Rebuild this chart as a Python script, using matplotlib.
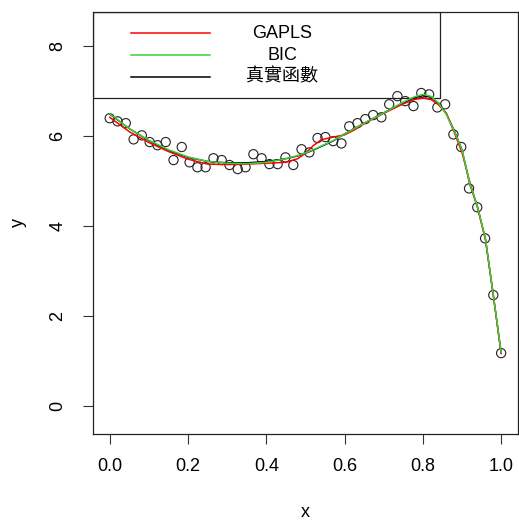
import matplotlib.pyplot as plt
from matplotlib.patches import Rectangle

plt.rcParams['font.family'] = ['Liberation Sans', 'Noto Sans CJK TC', 'DejaVu Sans']

# observed sample
x_obs = [0.000, 0.020, 0.041, 0.061, 0.082, 0.102, 0.122, 0.143, 0.163, 0.184,
         0.204, 0.224, 0.245, 0.265, 0.286, 0.306, 0.327, 0.347, 0.367, 0.388,
         0.408, 0.429, 0.449, 0.469, 0.490, 0.510, 0.531, 0.551, 0.571, 0.592,
         0.612, 0.633, 0.653, 0.673, 0.694, 0.714, 0.735, 0.755, 0.776, 0.796,
         0.816, 0.837, 0.857, 0.878, 0.898, 0.918, 0.939, 0.959, 0.980, 1.000]
y_obs = [6.40, 6.33, 6.29, 5.93, 6.02, 5.87, 5.80, 5.87, 5.47, 5.76,
         5.42, 5.31, 5.31, 5.51, 5.47, 5.36, 5.27, 5.31, 5.60, 5.51,
         5.38, 5.38, 5.53, 5.36, 5.71, 5.64, 5.96, 5.98, 5.89, 5.84,
         6.22, 6.29, 6.38, 6.47, 6.42, 6.71, 6.89, 6.78, 6.67, 6.96,
         6.93, 6.64, 6.71, 6.04, 5.76, 4.84, 4.42, 3.73, 2.47, 1.18]

# fitted curves and the true function on a common grid
x_fit = [0.00, 0.05, 0.10, 0.15, 0.20, 0.25, 0.30, 0.35, 0.40, 0.45, 0.48,
         0.50, 0.52, 0.54, 0.57, 0.60, 0.625, 0.65, 0.70, 0.75, 0.78, 0.80,
         0.82, 0.84, 0.86, 0.88, 0.90, 0.92, 0.94, 0.96, 0.98, 1.00]
y_gapls = [6.42, 6.10, 5.86, 5.66, 5.49, 5.38, 5.37, 5.38, 5.40, 5.42, 5.50,
           5.62, 5.79, 5.92, 5.98, 6.03, 6.14, 6.28, 6.51, 6.72, 6.82, 6.85,
           6.82, 6.70, 6.51, 6.09, 5.64, 4.98, 4.40, 3.70, 2.47, 1.17]
y_bic = [6.50, 6.17, 5.91, 5.70, 5.54, 5.44, 5.40, 5.39, 5.42, 5.50, 5.57,
         5.63, 5.70, 5.78, 5.90, 6.05, 6.17, 6.29, 6.52, 6.76, 6.88, 6.93,
         6.89, 6.74, 6.48, 6.12, 5.70, 4.95, 4.42, 3.72, 2.47, 1.20]
y_true = [6.49, 6.17, 5.90, 5.68, 5.53, 5.44, 5.41, 5.41, 5.44, 5.50, 5.56,
          5.62, 5.69, 5.77, 5.89, 6.05, 6.17, 6.29, 6.52, 6.74, 6.86, 6.90,
          6.87, 6.73, 6.50, 6.13, 5.70, 4.93, 4.42, 3.71, 2.46, 1.19]

labels = ['GAPLS', 'BIC', '真實函數']
colors = ['#ff0000', '#3ccf3c', '#000000']

fig = plt.figure(figsize=(5.19, 5.23), dpi=100)
ax = fig.add_axes([0.179, 0.170, 0.819, 0.807])

ax.scatter(x_obs, y_obs, s=44, facecolors='none', edgecolors='#222222',
           linewidths=0.8, zorder=2)
# true function underneath, then the two fits
ax.plot(x_fit, y_true, color=colors[2], lw=1.0, zorder=3)
ax.plot(x_fit, y_gapls, color=colors[0], lw=1.1, zorder=3)
ax.plot(x_fit, y_bic, color=colors[1], lw=1.1, zorder=3)

ax.set_xlim(-0.043, 1.043)
ax.set_ylim(-0.62, 8.76)
ax.set_xticks([0.0, 0.2, 0.4, 0.6, 0.8, 1.0])
ax.set_xticklabels(['0.0', '0.2', '0.4', '0.6', '0.8', '1.0'])
ax.set_yticks([0, 2, 4, 6, 8])
ax.tick_params(axis='both', direction='out', length=7.2, width=0.8,
               labelsize=13, color='#333333')
ax.tick_params(axis='x', pad=10)
ax.tick_params(axis='y', pad=12, labelrotation=90)
for lab in ax.get_yticklabels():
    lab.set_va('center')
for sp in ax.spines.values():
    sp.set_linewidth(0.9)
    sp.set_color('#222222')

ax.set_xlabel('x', fontsize=13)
ax.set_ylabel('y', fontsize=13)
ax.xaxis.set_label_coords(0.5, -0.185)
ax.yaxis.set_label_coords(-0.176, 0.502)
ax.xaxis.label.set_va('center')
ax.yaxis.label.set_va('center')

# legend box in the upper left corner, no fill
ax.add_patch(Rectangle((0.0, 0.796), 0.816, 0.204, transform=ax.transAxes,
                       facecolor='none', edgecolor='#222222', lw=0.9, zorder=1))
for k, (lab, c) in enumerate(zip(labels, colors)):
    yy = 0.950 - 0.052 * k
    ax.plot([0.0894, 0.275], [yy, yy], color=c, lw=1.1,
            transform=ax.transAxes, zorder=5)
    ax.text(0.445, yy, lab, transform=ax.transAxes, ha='center', va='center',
            fontsize=13, zorder=5)

fig.savefig('out.png', dpi=100)
